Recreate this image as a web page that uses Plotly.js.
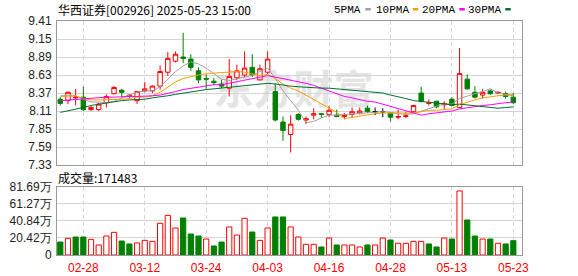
<!DOCTYPE html>
<html>
<head>
<meta charset="utf-8">
<script src="https://cdn.plot.ly/plotly-3.0.1.min.js"></script>
<style>html,body{margin:0;padding:0;background:#fff;}#chart{width:578px;height:276px;}</style>
</head>
<body>
<div id="chart"></div>
<script>
// ---------- data ----------
const stockTitle = '华西证券[002926] 2025-05-23 15:00';
const dates = ['02-25','02-26','02-27','02-28','03-03','03-04','03-05','03-06','03-07','03-10',
  '03-11','03-12','03-13','03-14','03-17','03-18','03-19','03-20','03-21','03-24',
  '03-25','03-26','03-27','03-28','03-31','04-01','04-02','04-03','04-07','04-08',
  '04-09','04-10','04-11','04-14','04-15','04-16','04-17','04-18','04-21','04-22',
  '04-23','04-24','04-25','04-28','04-29','04-30','05-06','05-07','05-08','05-09',
  '05-12','05-13','05-14','05-15','05-16','05-19','05-20','05-21','05-22','05-23'];
const openP = [8.28,8.26,8.30,8.31,8.13,8.13,8.23,8.36,8.41,8.32,
  8.26,8.40,8.40,8.47,8.67,8.83,8.89,8.86,8.69,8.58,
  8.54,8.50,8.44,8.59,8.63,8.74,8.56,8.67,8.39,7.95,
  7.77,8.06,7.98,8.05,8.07,8.06,8.05,8.03,8.06,8.08,
  8.15,8.10,8.10,8.08,8.02,8.03,8.10,8.37,8.22,8.25,
  8.20,8.28,8.16,8.57,8.38,8.34,8.40,8.37,8.36,8.31];
const highP = [8.31,8.39,8.43,8.46,8.18,8.23,8.35,8.47,8.43,8.35,
  8.40,8.53,8.48,8.77,8.96,8.97,9.24,8.93,8.74,8.64,
  8.59,8.56,8.86,8.78,8.97,8.93,8.78,8.97,8.51,8.03,
  8.05,8.08,8.03,8.15,8.08,8.18,8.13,8.08,8.16,8.16,
  8.19,8.16,8.15,8.09,8.13,8.10,8.20,8.46,8.28,8.26,
  8.25,8.31,9.02,8.64,8.47,8.43,8.42,8.39,8.39,8.37];
const lowP = [8.19,8.21,8.19,8.11,8.11,8.11,8.16,8.35,8.31,8.30,
  8.21,8.38,8.37,8.42,8.62,8.81,8.80,8.69,8.51,8.43,
  8.48,8.44,8.32,8.56,8.60,8.60,8.55,8.64,7.96,7.68,
  7.51,7.97,7.92,7.99,8.01,8.02,8.02,7.99,8.02,8.06,
  8.08,8.05,8.02,7.96,7.99,8.01,8.09,8.23,8.19,8.15,
  8.14,8.18,8.15,8.42,8.29,8.29,8.34,8.36,8.29,8.21];
const closeP = [8.22,8.38,8.31,8.13,8.16,8.21,8.32,8.45,8.38,8.34,
  8.39,8.43,8.47,8.68,8.87,8.93,8.87,8.74,8.56,8.57,
  8.52,8.47,8.61,8.69,8.73,8.63,8.72,8.86,7.98,7.83,
  7.92,7.99,8.00,8.07,8.06,8.12,8.03,8.05,8.10,8.11,
  8.10,8.10,8.10,8.02,8.03,8.04,8.19,8.25,8.23,8.17,
  8.22,8.19,8.65,8.43,8.31,8.38,8.36,8.38,8.32,8.23];
// volume in 万手
const volume = [15.5,19.9,21.5,21.5,18.7,12.0,22.7,27.1,16.7,13.2,
  14.4,17.5,16.3,37.9,47.4,32.3,44.3,25.1,22.7,19.1,
  10.8,15.5,33.5,23.9,43.9,27.5,17.5,32.3,45.5,45.5,
  33.5,21.5,12.8,12.8,9.6,20.3,12.0,12.0,12.0,9.6,
  12.0,12.0,20.3,17.9,14.0,14.0,16.3,16.3,13.2,9.6,
  20.3,19.1,76.6,41.9,22.7,19.1,19.1,14.0,13.2,17.1483];
const ma5 = [8.33,8.33,8.33,8.28,8.24,8.24,8.23,8.25,8.30,8.34,
  8.38,8.40,8.40,8.46,8.57,8.68,8.76,8.82,8.79,8.73,
  8.65,8.57,8.55,8.57,8.60,8.63,8.68,8.73,8.58,8.40,
  8.26,8.12,7.94,7.96,8.01,8.05,8.05,8.06,8.07,8.08,
  8.09,8.10,8.10,8.09,8.07,8.06,8.07,8.11,8.15,8.18,
  8.21,8.21,8.29,8.33,8.36,8.39,8.43,8.37,8.35,8.33];
const ma10 = [8.32,8.33,8.33,8.29,8.27,8.27,8.27,8.27,8.28,8.29,
  8.31,8.31,8.33,8.38,8.45,8.53,8.58,8.61,8.63,8.65,
  8.66,8.67,8.68,8.68,8.67,8.64,8.62,8.64,8.58,8.50,
  8.44,8.40,8.34,8.27,8.21,8.15,8.09,8.00,8.02,8.04,
  8.06,8.07,8.08,8.08,8.08,8.07,8.08,8.10,8.12,8.12,
  8.13,8.14,8.20,8.24,8.27,8.30,8.32,8.33,8.34,8.35];
const ma20 = [8.26,8.27,8.28,8.29,8.30,8.31,8.31,8.31,8.32,8.32,
  8.32,8.32,8.33,8.34,8.36,8.39,8.42,8.44,8.46,8.47,
  8.49,8.49,8.51,8.53,8.56,8.58,8.60,8.62,8.60,8.58,
  8.55,8.53,8.51,8.48,8.44,8.40,8.35,8.32,8.30,8.27,
  8.25,8.24,8.21,8.18,8.14,8.11,8.08,8.05,8.07,8.08,
  8.10,8.11,8.14,8.16,8.17,8.19,8.20,8.22,8.23,8.24];
const ma30 = [8.09,8.11,8.14,8.16,8.19,8.21,8.23,8.24,8.26,8.27,
  8.27,8.28,8.30,8.31,8.33,8.35,8.37,8.39,8.41,8.42,
  8.43,8.44,8.45,8.46,8.47,8.48,8.50,8.51,8.50,8.48,
  8.47,8.46,8.45,8.45,8.44,8.44,8.43,8.42,8.41,8.40,
  8.39,8.38,8.37,8.34,8.32,8.29,8.26,8.25,8.24,8.22,
  8.21,8.20,8.21,8.20,8.18,8.17,8.16,8.15,8.16,8.17];
const maNames = ['5PMA','10PMA','20PMA','30PMA'];
const tickLabels = ['02-28','03-12','03-24','04-03','04-16','04-28','05-13','05-23'];
const priceTicks = [9.41,9.15,8.89,8.63,8.37,8.11,7.85,7.59,7.33];
const volTicks = [0,20.42,40.84,61.27,81.69];
const volLabel = '成交量';

// ---------- styles ----------
const UP = '#ff0000', DOWN = '#008000', FLAT = '#000000';
const maColors = ['#a0a0a0','#f5a000','#ff00ff','#006f30'];
const W = 578, H = 276;
const px = v => v / W, py = v => 1 - v / H;
const idx = dates.map((d, i) => i);
const tickPos = tickLabels.map(l => dates.indexOf(l));

function candles(filter, incColor, decColor, incFill) {
  const ids = idx.filter(filter);
  return {
    type: 'candlestick', xaxis: 'x', yaxis: 'y',
    x: ids, open: ids.map(i => openP[i]), high: ids.map(i => highP[i]),
    low: ids.map(i => lowP[i]), close: ids.map(i => closeP[i]),
    increasing: {line: {color: incColor, width: 1}, fillcolor: incFill},
    decreasing: {line: {color: decColor, width: 1}, fillcolor: decColor},
    whiskerwidth: 0, hoverinfo: 'skip', showlegend: false
  };
}

const traces = [
  candles(i => closeP[i] > openP[i], UP, UP, '#ffffff'),
  candles(i => closeP[i] < openP[i], DOWN, DOWN, DOWN),
  candles(i => closeP[i] === openP[i], FLAT, FLAT, FLAT)
];
[ma5, ma10, ma20, ma30].forEach((m, k) => {
  traces.push({type: 'scatter', mode: 'lines', x: idx, y: m, xaxis: 'x', yaxis: 'y',
    line: {color: maColors[k], width: 1}, hoverinfo: 'skip', showlegend: false});
});
const volUp = idx.map(i => i === 0 ? closeP[i] >= openP[i] : closeP[i] >= closeP[i - 1]);
traces.push({
  type: 'bar', x: idx, y: volume, xaxis: 'x2', yaxis: 'y2', width: 0.68,
  marker: {color: volUp.map(u => u ? '#ffffff' : DOWN),
           line: {color: volUp.map(u => u ? UP : DOWN), width: 1}},
  hoverinfo: 'skip', showlegend: false
});

const xDom = [px(57), px(522)];
const xRange = [-0.43, 60.13];
const gridC = '#d4d4d4', borderC = '#9a9a9a';
const tickFont = {family: 'Liberation Sans, Arial, sans-serif', size: 12, color: '#222'};
const baseX = {
  domain: xDom, range: xRange, showgrid: true, gridcolor: gridC, griddash: '4px,3px',
  gridwidth: 1, zeroline: false, showline: true, mirror: true, linecolor: borderC,
  linewidth: 1, ticks: '', tickvals: tickPos, fixedrange: true
};
const baseY = {
  showgrid: true, gridcolor: gridC, gridwidth: 1, zeroline: false, showline: true,
  mirror: true, linecolor: borderC, linewidth: 1, ticks: '', tickfont: tickFont,
  fixedrange: true, ticklabelstandoff: 2
};

const annotations = [
  {text: stockTitle, xref: 'paper', yref: 'paper', x: px(56), y: py(9.5),
   xanchor: 'left', yanchor: 'middle', showarrow: false,
   font: {family: 'Noto Sans CJK SC, sans-serif', size: 12, color: '#000'}},
  {text: volLabel + ':' + Math.round(volume[volume.length - 1] * 10000), xref: 'paper', yref: 'paper',
   x: px(56), y: py(177.5), xanchor: 'left', yanchor: 'middle', showarrow: false,
   font: {family: 'Noto Sans CJK SC, sans-serif', size: 12, color: '#000'}}
];
const legendSq = [365.3, 412.7, 459.3, 505.3];
const shapes = [];
maNames.forEach((n, k) => {
  annotations.push({text: n, xref: 'paper', yref: 'paper', x: px(legendSq[k] - 2), y: py(9.5),
    xanchor: 'right', yanchor: 'middle', showarrow: false,
    font: {family: 'Liberation Mono, monospace', size: 11, color: '#000'}});
  shapes.push({type: 'rect', xref: 'paper', yref: 'paper', x0: px(legendSq[k]), x1: px(legendSq[k] + 5.5),
    y0: py(10.5), y1: py(8), line: {width: 0}, fillcolor: maColors[k]});
});
shapes.push({type: 'rect', xref: 'paper', yref: 'paper', x0: px(205), x1: px(382), y0: py(114), y1: py(72),
  line: {width: 0}, fillcolor: 'rgba(0,0,0,0)', layer: 'below',
  label: {text: '东方财富', textposition: 'middle center',
    font: {family: 'Noto Sans CJK SC, sans-serif', size: 40, color: '#e4e4e4', weight: 'bold'}}});

const layout = {
  width: W, height: H, margin: {l: 0, r: 0, t: 0, b: 0},
  paper_bgcolor: '#fff', plot_bgcolor: 'rgba(0,0,0,0)', showlegend: false,
  boxgap: 0.42, boxgroupgap: 0, bargap: 0,
  font: tickFont,
  xaxis: Object.assign({}, baseX, {anchor: 'y', showticklabels: false, rangeslider: {visible: false}}),
  yaxis: Object.assign({}, baseY, {anchor: 'x', domain: [py(165), py(21)], range: [7.33, 9.41],
    tickvals: priceTicks, ticktext: priceTicks.map(v => v.toFixed(2))}),
  xaxis2: Object.assign({}, baseX, {anchor: 'y2', showticklabels: true, ticktext: tickLabels,
    tickfont: {family: 'Liberation Sans, Arial, sans-serif', size: 12, color: '#ff0000'}, ticklabelstandoff: 2}),
  yaxis2: Object.assign({}, baseY, {anchor: 'x2', domain: [py(255), py(186.7)], range: [0, 81.69],
    tickvals: volTicks, ticktext: volTicks.map(v => v === 0 ? '0' : v.toFixed(2) + '万')}),
  annotations: annotations, shapes: shapes
};

Plotly.newPlot('chart', traces, layout, {staticPlot: true, displayModeBar: false});
</script>
</body>
</html>
